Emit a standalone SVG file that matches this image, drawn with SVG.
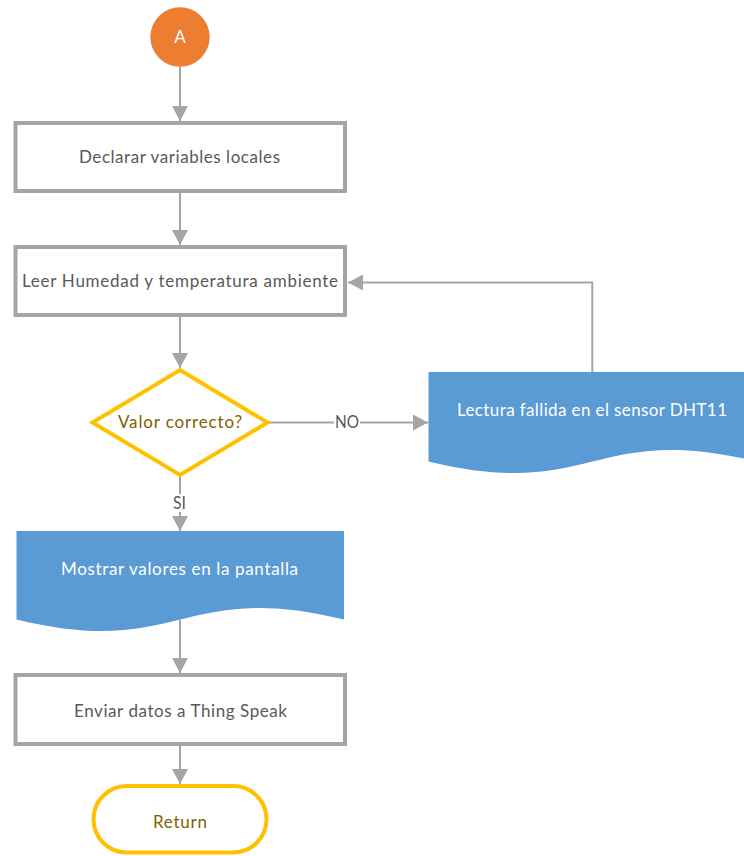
<svg xmlns="http://www.w3.org/2000/svg" width="744" height="856" viewBox="0 0 744 856">
  <style>
    text { font-family: Lato, "Open Sans", "Liberation Sans", sans-serif; font-size: 17px; text-anchor: middle; }
    .proc { fill: #ffffff; stroke: #a5a5a5; stroke-width: 4; }
    .gold { fill: #ffffff; stroke: #ffc000; stroke-width: 4; }
    .doc { fill: #5b9bd5; stroke: none; }
    .t-gray { fill: #595959; }
    .t-gold { fill: #7f6000; }
    .t-white { fill: #ffffff; }
    .edge { fill: none; stroke: #a5a5a5; stroke-width: 2; }
    .lbl-bg { fill: #ffffff; }
  </style>
  <defs>
    <marker id="arrow" markerUnits="userSpaceOnUse" markerWidth="15" markerHeight="16" refX="15" refY="8" orient="auto">
      <path d="M0,0 L15,8 L0,16 Z" fill="#a5a5a5"/>
    </marker>
  </defs>

  <!-- connectors -->
  <g id="connectors">
    <path class="edge" d="M180,67 V121" marker-end="url(#arrow)"/>
    <path class="edge" d="M180,193 V245" marker-end="url(#arrow)"/>
    <path class="edge" d="M180,317 V368" marker-end="url(#arrow)"/>
    <path class="edge" d="M180,477 V531" marker-end="url(#arrow)"/>
    <rect class="lbl-bg" x="170" y="494" width="20" height="18"/>
    <text class="t-gray" x="179.5" y="509" textLength="13" lengthAdjust="spacingAndGlyphs">SI</text>
    <path class="edge" d="M269,422.5 H428" marker-end="url(#arrow)"/>
    <rect class="lbl-bg" x="334" y="413" width="26" height="18"/>
    <text class="t-gray" x="347" y="428" textLength="24" lengthAdjust="spacingAndGlyphs">NO</text>
    <path class="edge" d="M592.3,372 V282.5 H348" marker-end="url(#arrow)"/>
    <path class="edge" d="M180,619.5 V673" marker-end="url(#arrow)"/>
    <path class="edge" d="M180,746 V784" marker-end="url(#arrow)"/>
  </g>

  <!-- start connector A -->
  <g id="start">
    <circle cx="180" cy="37" r="29.7" fill="#ed7d31"/>
    <text class="t-white" x="180" y="43">A</text>
  </g>

  <g id="declare">
    <rect class="proc" x="15.5" y="123" width="329.5" height="68"/>
    <text class="t-gray" x="179.5" y="163" textLength="201">Declarar variables locales</text>
  </g>

  <g id="read">
    <rect class="proc" x="15.5" y="247" width="329.5" height="68"/>
    <text class="t-gray" x="180" y="287" textLength="316">Leer Humedad y temperatura ambiente</text>
  </g>

  <g id="check">
    <path class="gold" d="M180,370 L267.5,422.5 L180,475 L92.5,422.5 Z"/>
    <text class="t-gold" x="180" y="428" textLength="124">Valor correcto?</text>
  </g>

  <g id="error">
    <path class="doc" d="M428.5,372 H756.5 V461.5 C592.5,421.5 592.5,501.5 428.5,461.5 Z"/>
    <text class="t-white" x="592" y="416" textLength="270">Lectura fallida en el sensor DHT11</text>
  </g>

  <g id="display">
    <path class="doc" d="M16.5,531 H344 V619.5 C180.25,579.5 180.25,659.5 16.5,619.5 Z"/>
    <text class="t-white" x="179.5" y="575" textLength="237">Mostrar valores en la pantalla</text>
  </g>

  <g id="send">
    <rect class="proc" x="15.5" y="675" width="329.5" height="69"/>
    <text class="t-gray" x="180.5" y="717" textLength="213">Enviar datos a Thing Speak</text>
  </g>

  <g id="return">
    <rect class="gold" x="93.5" y="786" width="173" height="66.5" rx="33.25" ry="33.25"/>
    <text class="t-gold" x="180" y="828" textLength="54">Return</text>
  </g>
</svg>
